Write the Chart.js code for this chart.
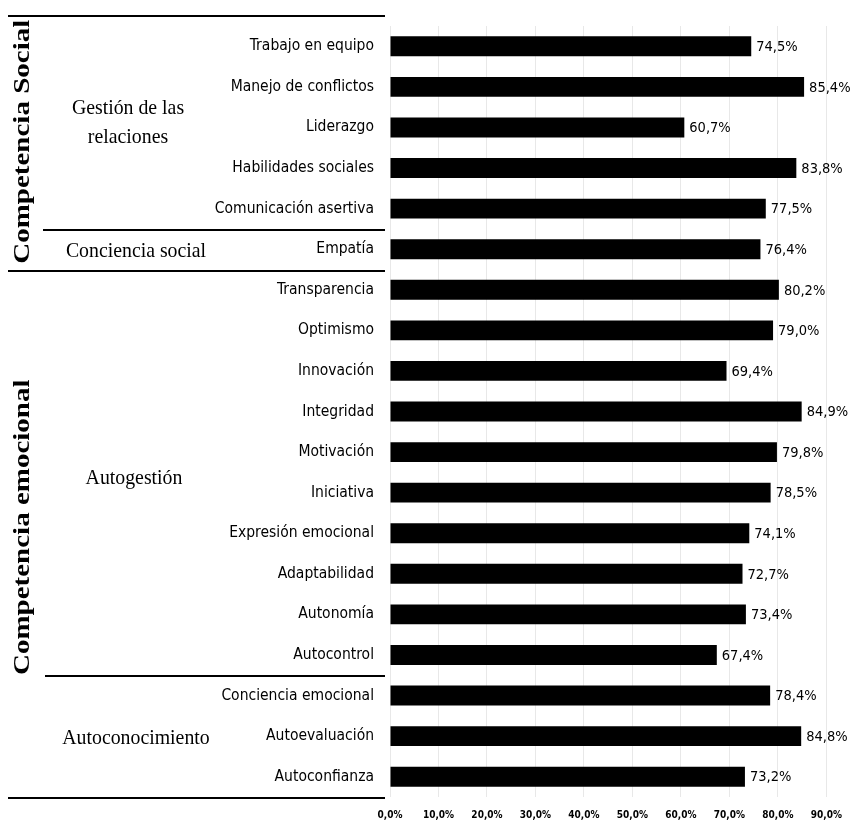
<!DOCTYPE html>
<html>
<head>
<meta charset="utf-8">
<script src="https://cdn.jsdelivr.net/npm/chart.js@4"></script>
<style>
  html,body{margin:0;padding:0;background:#fff;}
  #wrap{width:854px;height:824px;}
</style>
</head>
<body>
<div id="wrap"><canvas id="compChart"></canvas></div>
<script>
    const categories=["Trabajo en equipo","Manejo de conflictos","Liderazgo","Habilidades sociales","Comunicación asertiva","Empatía","Transparencia","Optimismo","Innovación","Integridad","Motivación","Iniciativa","Expresión emocional","Adaptabilidad","Autonomía","Autocontrol","Conciencia emocional","Autoevaluación","Autoconfianza"];
    const values=[74.5,85.4,60.7,83.8,77.5,76.4,80.2,79.0,69.4,84.9,79.8,78.5,74.1,72.7,73.4,67.4,78.4,84.8,73.2];
    const xTicks=[0,10,20,30,40,50,60,70,80,90];

    // subgrupos: nombre (lineas), primer y ultimo indice
    const subGroups=[
        {lines:["Gestión de las","relaciones"],from:0,to:4},
        {lines:["Conciencia social"],from:5,to:5},
        {lines:["Autogestión"],from:6,to:15},
        {lines:["Autoconocimiento"],from:16,to:18},
    ];
    const mainGroups=[
        {name:"Competencia Social",from:0,to:5},
        {name:"Competencia emocional",from:6,to:18},
    ];

    const fmt=function(v){ return v.toFixed(1).replace(".",",")+"%"; };
    const narrow="'DejaVu Sans Condensed', 'Liberation Sans Narrow', sans-serif";
    const serif="'Liberation Serif', 'DejaVu Serif', serif";

    const groupPlugin={
        id:"groupPlugin",
        afterDraw(chart){
            const ctx=chart.ctx;
            const y=chart.scales.y;
            const step=y.getPixelForValue(1)-y.getPixelForValue(0);
            const edge=function(i){ return y.getPixelForValue(i)-step/2; };
            const lineRight=385;
            ctx.save();
            ctx.strokeStyle="#000";
            ctx.lineWidth=2;
            // [indice del borde, x inicial, ajuste vertical]
            const seps=[[0,8,-10],[5,43,1],[6,8,2],[16,45,1],[19,8,1]];
            seps.forEach(function(s){
                const yy=Math.round(edge(s[0])+s[2]);
                ctx.beginPath();
                ctx.moveTo(s[1],yy);
                ctx.lineTo(lineRight,yy);
                ctx.stroke();
            });
            // subgrupos (letra algo comprimida como en la figura)
            const shift=[[-8,-5],[0,2],[-2,6],[0,2]];
            ctx.fillStyle="#000";
            ctx.font="22px "+serif;
            ctx.textAlign="center";
            ctx.textBaseline="middle";
            subGroups.forEach(function(g,gi){
                const mid=(y.getPixelForValue(g.from)+y.getPixelForValue(g.to))/2;
                const n=g.lines.length;
                g.lines.forEach(function(t,k){
                    ctx.save();
                    ctx.translate(136+shift[gi][0],mid+shift[gi][1]+(k-(n-1)/2)*29);
                    ctx.scale(0.9,1);
                    ctx.fillText(t,0,0);
                    ctx.restore();
                });
            });
            // grupos principales rotados
            ctx.font="bold 29px "+serif;
            mainGroups.forEach(function(g){
                const mid=(edge(g.from)+edge(g.to+1))/2;
                ctx.save();
                ctx.translate(23,mid-6);
                ctx.rotate(-Math.PI/2);
                ctx.scale(1,0.82);
                ctx.fillText(g.name,0,0);
                ctx.restore();
            });
            // etiquetas de valor
            ctx.font="14.5px "+narrow;
            ctx.textAlign="left";
            const meta=chart.getDatasetMeta(0);
            meta.data.forEach(function(bar,i){
                ctx.fillText(fmt(values[i]),bar.x+5,bar.y+1);
            });
            ctx.restore();
        },
    };

    const ctxComp=document.getElementById("compChart").getContext("2d");
    const compChart=new Chart(ctxComp,{
        type: "bar",
        data: {
            labels: categories,
            datasets: [{
                data: values,
                backgroundColor: "#000",
                borderWidth: 0,
                barPercentage: 0.98,
                categoryPercentage: 0.5,
            }],
        },
        options: {
            indexAxis: "y",
            responsive: true,
            maintainAspectRatio: false,
            animation: false,
            layout: {
                padding: {top: 26, right: 20, bottom: 0, left: 0},
            },
            plugins: {
                legend: {display: false},
                tooltip: {enabled: false},
            },
            scales: {
                x: {
                    min: 0,
                    max: 90,
                    afterBuildTicks: function(scale){
                        scale.ticks=xTicks.map(function(v){ return {value:v}; });
                    },
                    afterFit: function(scale){ scale.height=27; },
                    grid: {color: "#e8e8e8", drawTicks: false},
                    border: {display: false},
                    ticks: {
                        color: "#000",
                        padding: 12,
                        maxRotation: 0,
                        font: {family: narrow, size: 10, weight: "bold"},
                        callback: function(value){ return fmt(value); },
                    },
                },
                y: {
                    grid: {display: false, drawTicks: false},
                    border: {display: false},
                    afterFit: function(scale){ scale.width=390; },
                    ticks: {
                        color: "#000",
                        padding: 16,
                        autoSkip: false,
                        font: {family: narrow, size: 15.5},
                    },
                },
            },
        },
        plugins: [groupPlugin],
    });
</script>
</body>
</html>
